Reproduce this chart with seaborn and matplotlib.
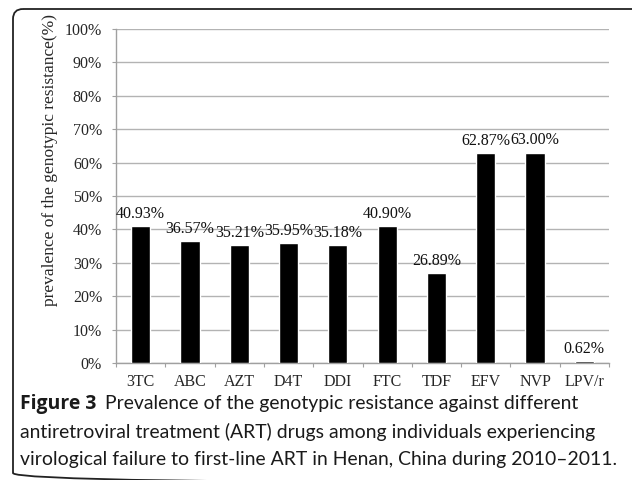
import matplotlib
matplotlib.use("Agg")
import matplotlib.pyplot as plt
import seaborn as sns
from matplotlib.patches import FancyBboxPatch

# data
drugs = ["3TC", "ABC", "AZT", "D4T", "DDI", "FTC", "TDF", "EFV", "NVP", "LPV/r"]
prevalence = [40.93, 36.57, 35.21, 35.95, 35.18, 40.90, 26.89, 62.87, 63.00, 0.62]
y_ticks = [0, 10, 20, 30, 40, 50, 60, 70, 80, 90, 100]

caption_bold = "Figure 3"
caption_lines = [
    "Prevalence of the genotypic resistance against different",
    "antiretroviral treatment (ART) drugs among individuals experiencing",
    "virological failure to first-line ART in Henan, China during 2010\u20132011.",
]

sns.set_style("white")
plt.rcParams["font.family"] = ["Liberation Serif", "DejaVu Serif"]

W, H = 632, 480
fig = plt.figure(figsize=(W / 100, H / 100), dpi=100)
ax = fig.add_axes([116 / W, 1 - 363 / H, (609 - 116) / W, (363 - 29) / H])

sns.barplot(x=drugs, y=prevalence, color="black", saturation=1, width=0.39, ax=ax, zorder=3)
ax.bar_label(ax.containers[0], labels=[f"{v:.2f}%" for v in prevalence],
             padding=3, fontsize=11.5, color="#111111")

ax.set_xlim(-0.5, len(drugs) - 0.5)
ax.set_ylim(0, 100)
ax.set_yticks(y_ticks)
ax.set_yticklabels([f"{t}%" for t in y_ticks])
ax.yaxis.grid(True, color="#b3b3b3", linewidth=1, zorder=0)
ax.set_axisbelow(True)
ax.set_xlabel("")
ax.set_ylabel("")

ax.tick_params(axis="y", length=3, width=0.8, color="#a0a0a0", pad=7, labelsize=11.5, left=True)
ax.tick_params(axis="x", which="major", length=0, pad=8, labelsize=11.5)
ax.set_xticks([i - 0.5 for i in range(len(drugs) + 1)], minor=True)
ax.tick_params(axis="x", which="minor", length=3, width=0.8, color="#a0a0a0", bottom=True)
for s in ["top", "right"]:
    ax.spines[s].set_visible(False)
for s in ["left", "bottom"]:
    ax.spines[s].set_color("#a0a0a0")
    ax.spines[s].set_linewidth(1)

fig.text(50 / W, 1 - 160 / H, "prevalence of the genotypic resistance(%)",
         rotation=90, ha="center", va="center", fontsize=12.5)

# frame around the figure + caption (right and bottom edges run off the image)
over = fig.add_axes([0, 0, 1, 1], facecolor="none")
over.set_xlim(0, W)
over.set_ylim(H, 0)
over.axis("off")
over.add_patch(FancyBboxPatch((13, 9), 630, 474, boxstyle="round,pad=0,rounding_size=10",
                              fill=False, edgecolor="#222222", linewidth=1.3))

# caption, sized so the longest line fits inside the frame
cap_font = ["Lato", "DejaVu Sans"]
renderer = fig.canvas.get_renderer()
widest = 0
for line in caption_lines[1:]:
    probe = fig.text(0, 0, line, fontsize=13, family=cap_font)
    widest = max(widest, probe.get_window_extent(renderer).width)
    probe.remove()
cap_size = 13 * (614 - 20) / widest

y0 = [404, 432, 460]
b = fig.text(20 / W, 1 - y0[0] / H, caption_bold, fontsize=cap_size,
             family=["Open Sans", "DejaVu Sans"], fontweight="bold", va="center", color="#1a1a1a")
bw = b.get_window_extent(renderer).width
fig.text((20 + bw + 9) / W, 1 - y0[0] / H, caption_lines[0], fontsize=cap_size,
         family=cap_font, va="center", color="#1a1a1a")
for line, yy in zip(caption_lines[1:], y0[1:]):
    fig.text(20 / W, 1 - yy / H, line, fontsize=cap_size, family=cap_font,
             va="center", color="#1a1a1a")

fig.savefig("out.png", dpi=100)
